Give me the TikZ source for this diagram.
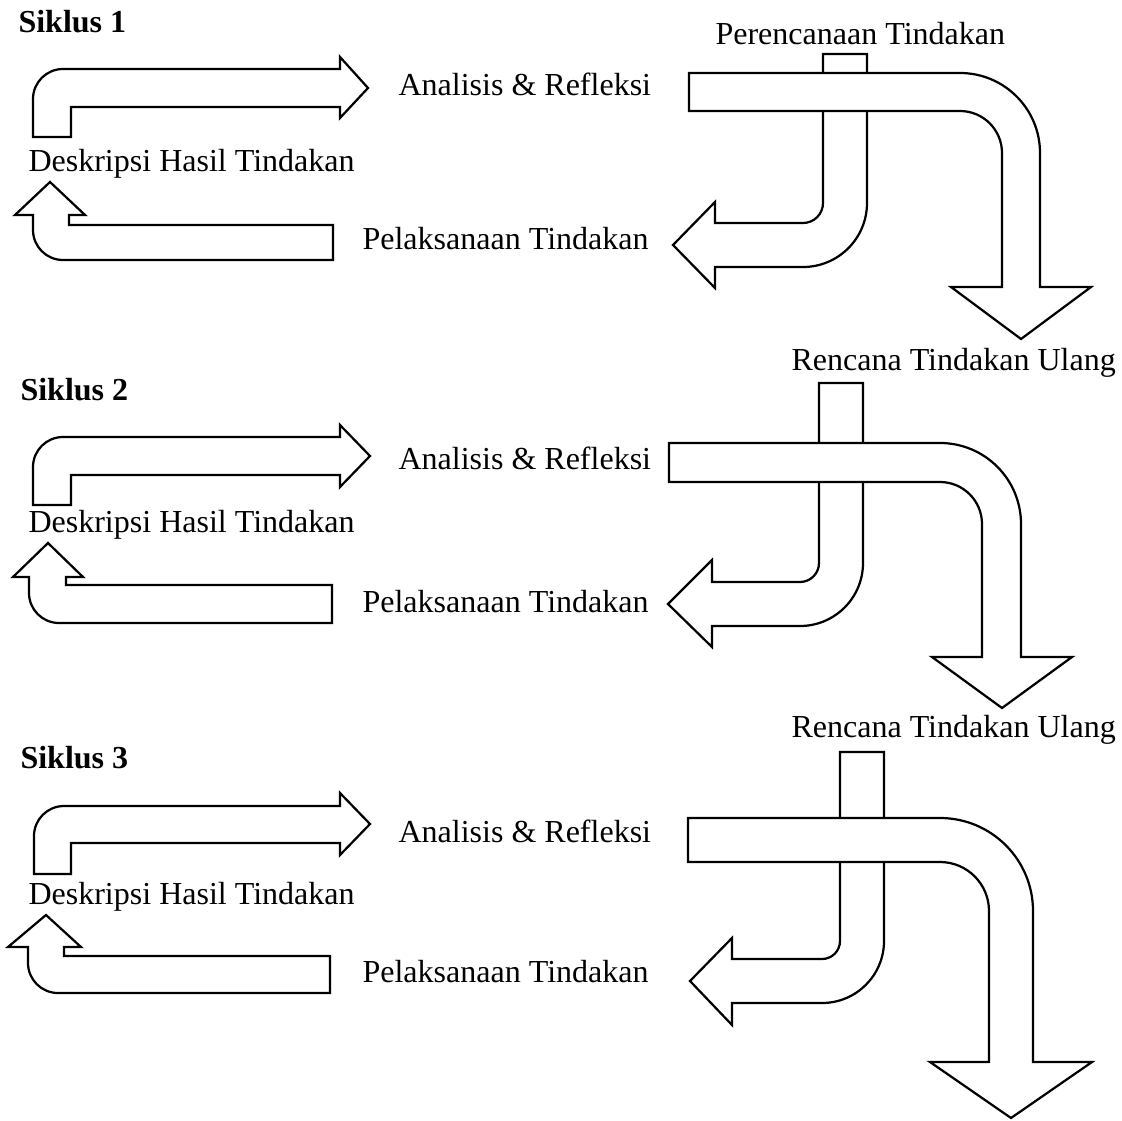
\documentclass[tikz,border=0pt]{standalone}
\usepackage{fontspec}
\setmainfont{Liberation Serif}

\begin{document}
\begin{tikzpicture}[x=0.381pt,y=-0.381pt,
    blok/.style={draw=black,fill=white,line width=0.85pt,line join=miter},
    lbl/.style={anchor=base west,inner sep=0pt,font=\fontsize{12.2}{14}\selectfont},
    ttl/.style={lbl,font=\fontsize{12.2}{14}\selectfont\bfseries}]

      \useasboundingbox (0,0) rectangle (1122,1121);

      % Siklus 1
      \node[ttl] (s1) at (18,33){Siklus 1};
      \draw[blok] (71,137) -- (33,137) -- (33,99) arc[start angle=180,end angle=270,radius=30] -- (340,69) -- (340,57) -- (368,88) -- (340,118) -- (340,107) -- (71,107) -- cycle;
      \draw[blok] (333,225) -- (69,225) -- (69,215) -- (85,215) -- (50,182) -- (15,215) -- (33,215) -- (33,230) arc[start angle=180,end angle=90,radius=30] -- (333,260) -- cycle;
      \draw[blok] (823,54) -- (867,54) -- (867,203) arc[start angle=0,end angle=90,radius=64] -- (715,267) -- (715,288) -- (673,245) -- (715,202) -- (715,223) -- (803,223) arc[start angle=90,end angle=0,radius=20] -- cycle;
      \draw[blok] (689,73) -- (960,73) arc[start angle=270,end angle=360,radius=80] -- (1040,287) -- (1091,287) -- (1021,339) -- (951,287) -- (1002,287) -- (1002,153) arc[start angle=0,end angle=-90,radius=42] -- (689,111) -- cycle;
      \node[lbl] (ar1) at (398,96){Analisis \& Refleksi};
      \node[lbl] (dh1) at (28,172){Deskripsi Hasil Tindakan};
      \node[lbl] (pt1) at (362,250){Pelaksanaan Tindakan};
      \node[lbl] (rt1) at (715,45){Perencanaan Tindakan};
      \node[lbl] (ru1) at (791,371){Rencana Tindakan Ulang};

      % Siklus 2
      \node[ttl] (s2) at (20,400){Siklus 2};
      \draw[blok] (71,505) -- (33,505) -- (33,467) arc[start angle=180,end angle=270,radius=30] -- (340,437) -- (340,425) -- (370,456) -- (340,487) -- (340,475) -- (71,475) -- cycle;
      \draw[blok] (332,585) -- (66,585) -- (66,577) -- (83,577) -- (48,543) -- (13,577) -- (29,577) -- (29,593) arc[start angle=180,end angle=90,radius=30] -- (332,623) -- cycle;
      \draw[blok] (819,383) -- (863,383) -- (863,563) arc[start angle=0,end angle=90,radius=63] -- (712,626) -- (712,647) -- (668,604) -- (712,560) -- (712,582) -- (800,582) arc[start angle=90,end angle=0,radius=19] -- cycle;
      \draw[blok] (669,443) -- (940,443) arc[start angle=270,end angle=360,radius=81] -- (1021,657) -- (1072,657) -- (1002,708) -- (932,657) -- (982,657) -- (982,524) arc[start angle=0,end angle=-90,radius=42] -- (669,482) -- cycle;
      \node[lbl] (ar2) at (398,469){Analisis \& Refleksi};
      \node[lbl] (dh2) at (28,532){Deskripsi Hasil Tindakan};
      \node[lbl] (pt2) at (362,612){Pelaksanaan Tindakan};
      \node[lbl] (ru2) at (791,737){Rencana Tindakan Ulang};

      % Siklus 3
      \node[ttl] (s3) at (20,768){Siklus 3};
      \draw[blok] (71,874) -- (34,874) -- (34,836) arc[start angle=180,end angle=270,radius=30] -- (340,806) -- (340,793) -- (370,824) -- (340,855) -- (340,843) -- (71,843) -- cycle;
      \draw[blok] (330,956) -- (64,956) -- (64,947) -- (81,947) -- (46,915) -- (8,947) -- (28,947) -- (28,963) arc[start angle=180,end angle=90,radius=30] -- (330,993) -- cycle;
      \draw[blok] (840,752) -- (884,752) -- (884,941) arc[start angle=0,end angle=90,radius=62] -- (732,1003) -- (732,1025) -- (690,981) -- (732,938) -- (732,959) -- (822,959) arc[start angle=90,end angle=0,radius=18] -- cycle;
      \draw[blok] (688,818) -- (940,818) arc[start angle=270,end angle=360,radius=93] -- (1033,1062) -- (1092,1062) -- (1011,1118) -- (930,1062) -- (989,1062) -- (989,911) arc[start angle=0,end angle=-90,radius=49] -- (688,862) -- cycle;
      \node[lbl] (ar3) at (398,842){Analisis \& Refleksi};
      \node[lbl] (dh3) at (28,904){Deskripsi Hasil Tindakan};
      \node[lbl] (pt3) at (362,982){Pelaksanaan Tindakan};

    \end{tikzpicture}
\end{document}
